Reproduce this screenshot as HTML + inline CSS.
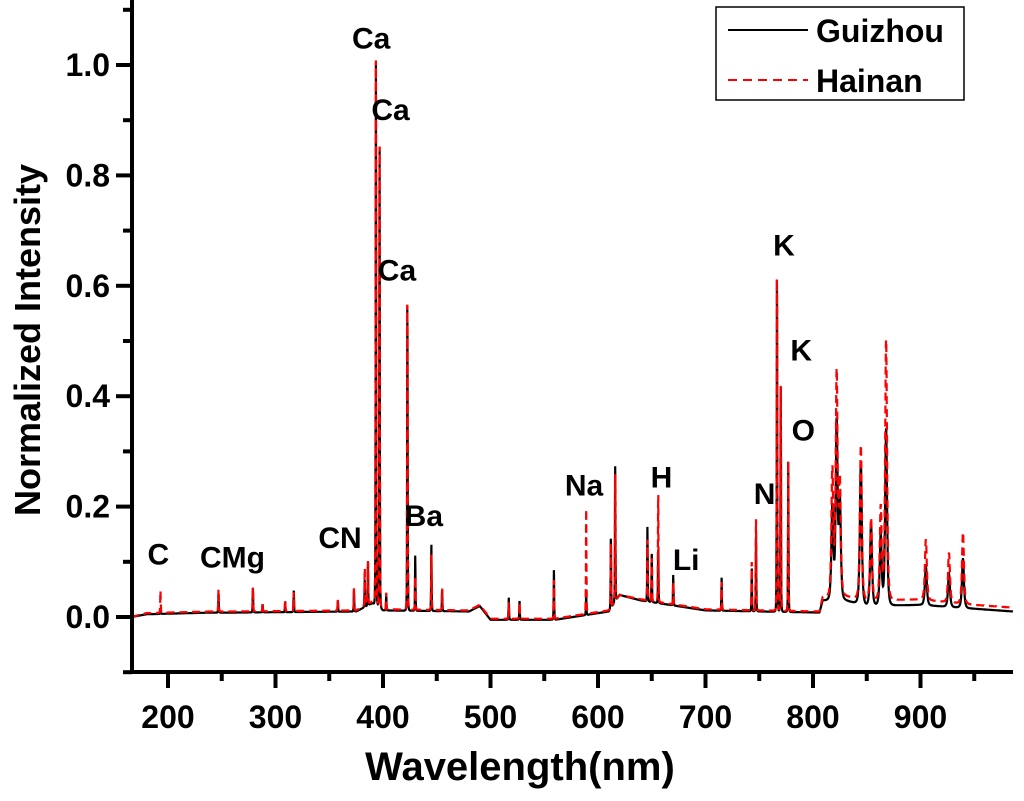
<!DOCTYPE html>
<html><head><meta charset="utf-8"><style>
body{margin:0;background:#fff}
svg text{font-family:"Liberation Sans",Arial,sans-serif;font-weight:bold}
</style></head><body>
<svg id="chart" width="1024" height="796" xmlns="http://www.w3.org/2000/svg">
<g id="plot"></g>
<g id="axes"></g>
<g id="labels"></g>
<text x="520" y="780" font-size="40" text-anchor="middle">Wavelength(nm)</text>
<text transform="translate(40,340) rotate(-90)" font-size="36" text-anchor="middle">Normalized Intensity</text>
<g>
<rect x="716" y="7" width="248" height="93" fill="#fff" stroke="#000" stroke-width="1.5"/>
<line x1="728" y1="30" x2="808" y2="30" stroke="#000" stroke-width="2"/>
<text x="816" y="42" font-size="32">Guizhou</text>
<line x1="728" y1="80" x2="808" y2="80" stroke="#f00" stroke-width="2" stroke-dasharray="9,6"/>
<text x="816" y="92" font-size="32">Hainan</text>
</g>
</svg>
<script>
// Data
const peakWl = [193,247,279,288,309,317,358,373,383,386,393.4,396.8,403,422.7,430,445,455,517,527,559,589,612,616,646,650,656,670,715,743,747,766.5,770,777,818,822,825,844.5,854,863,868,905,926.5,939.5];
const peakG  = [0.01,0.035,0.045,0.015,0.02,0.04,0.02,0.04,0.05,0.08,0.985,0.86,0.03,0.57,0.1,0.12,0.04,0.04,0.035,0.09,0.04,0.13,0.245,0.135,0.09,0.1,0.055,0.06,0.08,0.14,0.62,0.42,0.28,0.17,0.32,0.18,0.26,0.15,0.13,0.32,0.07,0.06,0.09];
const peakH  = [0.04,0.04,0.045,0.015,0.02,0.035,0.02,0.04,0.07,0.08,0.985,0.86,0.03,0.57,0.06,0.10,0.04,0.03,0.03,0.07,0.19,0.12,0.23,0.11,0.08,0.2,0.04,0.05,0.09,0.17,0.62,0.42,0.28,0.23,0.40,0.2,0.28,0.15,0.17,0.47,0.11,0.09,0.13];
const baseWl = [166,180,240,260,375,390,400,480,490,500,560,610,620,640,700,806,809,830,850,900,950,986];
const baseG  = [0.0,0.005,0.008,0.008,0.01,0.025,0.012,0.01,0.02,-0.005,-0.005,0.01,0.04,0.03,0.012,0.008,0.03,0.03,0.02,0.022,0.015,0.01];
const baseH  = [0.0,0.007,0.01,0.01,0.012,0.028,0.014,0.012,0.022,-0.003,-0.003,0.012,0.04,0.032,0.014,0.01,0.036,0.038,0.03,0.032,0.022,0.017];
const xTicks = [200,300,400,500,600,700,800,900];
const yTicks = [0.0,0.2,0.4,0.6,0.8,1.0];
const labelText = ["Ca","Ca","Ca","C","CMg","CN","Ba","Na","H","Li","N","K","K","O"];
const labelWl   = [389,407,413,191,260,360,438,587,659,682,755,773,789,791];
const labelVal  = [1.03,0.9,0.61,0.095,0.09,0.125,0.165,0.22,0.235,0.085,0.205,0.655,0.465,0.32];

const X0=132,X1=1013,Y0=672;
const xs=w=>168+(w-200)*1.075;
const ys=v=>617-v*552;
const NS="http://www.w3.org/2000/svg";
function mk(t,a,p){const e=document.createElementNS(NS,t);for(const k in a)e.setAttribute(k,a[k]);p.appendChild(e);return e;}
function interp(w,bw,bv){for(let i=0;i<bw.length-1;i++){if(w>=bw[i]&&w<=bw[i+1]){return bv[i]+(bv[i+1]-bv[i])*(w-bw[i])/(bw[i+1]-bw[i]);}}return bv[bv.length-1];}
function path(pv,bv){let d="";for(let w=166;w<=986;w+=0.15){let v=interp(w,baseWl,bv);for(let i=0;i<peakWl.length;i++){const g=peakWl[i]>810?1.6:0.4;const dd=(w-peakWl[i])/g;const q=1+dd*dd;v+=pv[i]/(q*q);}d+=(d?"L":"M")+xs(w).toFixed(1)+","+ys(v).toFixed(1);}return d;}
const plot=document.getElementById('plot');
const g1=mk('path',{d:path(peakG,baseG),fill:"none",stroke:"#000","stroke-width":2.2},plot);


const h1=mk('path',{d:path(peakH,baseH),fill:"none",stroke:"#f00","stroke-width":2.2,"stroke-dasharray":"8,5"},plot);


const ax=document.getElementById('axes');
const yl=mk('line',{x1:X0,y1:0,x2:X0,y2:Y0+1,stroke:"#000","stroke-width":4},ax);


const xl=mk('line',{x1:X0-2,y1:Y0,x2:X1,y2:Y0,stroke:"#000","stroke-width":4},ax);


xTicks.forEach(t=>{
 mk('line',{x1:xs(t),y1:Y0,x2:xs(t),y2:Y0+16,stroke:"#000","stroke-width":4},ax);
 mk('line',{x1:xs(t+50),y1:Y0,x2:xs(t+50),y2:Y0+9,stroke:"#000","stroke-width":4},ax);
 const tx=mk('text',{x:xs(t),y:Y0+56,"font-size":32,"text-anchor":"middle"},ax);
 tx.textContent=t;
 
 
});
yTicks.forEach(t=>{
 mk('line',{x1:X0-16,y1:ys(t),x2:X0,y2:ys(t),stroke:"#000","stroke-width":4},ax);
 mk('line',{x1:X0-9,y1:ys(t+0.1),x2:X0,y2:ys(t+0.1),stroke:"#000","stroke-width":4},ax);
 const tx=mk('text',{x:X0-22,y:ys(t)+11,"font-size":32,"text-anchor":"end"},ax);
 tx.textContent=t.toFixed(1);
 
 
});
mk('line',{x1:X0-9,y1:ys(-0.1),x2:X0,y2:ys(-0.1),stroke:"#000","stroke-width":4},ax);
const lb=document.getElementById('labels');
labelText.forEach((s,i)=>{
 const t=mk('text',{x:xs(labelWl[i]),y:ys(labelVal[i]),"font-size":30,"text-anchor":"middle"},lb);
 t.textContent=s;
 
 
});
</script>
</body></html>
